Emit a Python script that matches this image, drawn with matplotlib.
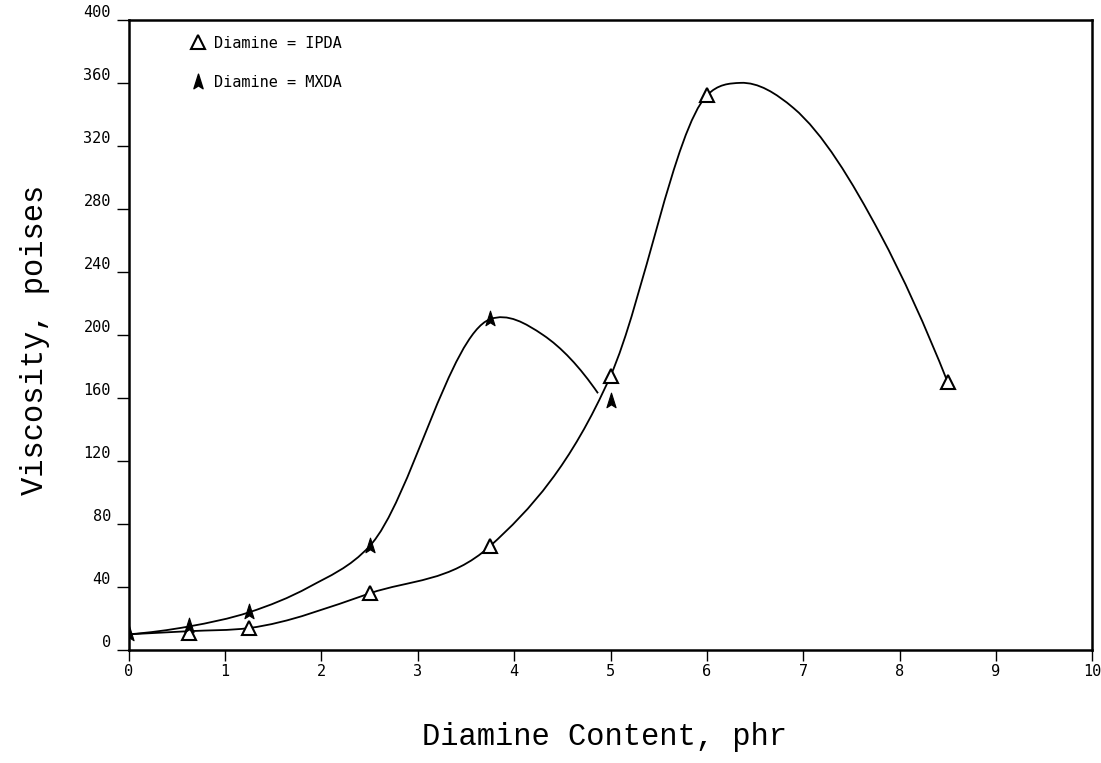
import numpy as np
import matplotlib
matplotlib.use("Agg")
import matplotlib.pyplot as plt
from matplotlib.path import Path
from matplotlib.patches import PathPatch
from matplotlib.lines import Line2D

# ---- data ----
# measured points (markers)
ipda_x = [0.625, 1.25, 2.5, 3.75, 5.0, 6.0, 8.5]
ipda_y = [11, 14, 36, 66, 174, 352, 170]
mxda_x = [0.0, 0.625, 1.25, 2.5, 3.75, 5.0]
mxda_y = [10, 15, 24, 66, 210, 158]

# hand-drawn curves, points
ipda_curve_x = [0.0, 0.625, 1.25, 2.5, 3.75, 5.0, 6.0, 6.35, 6.9, 7.8, 8.5]
ipda_curve_y = [10, 12, 14, 36, 66, 174, 352, 360, 344, 264, 170]
mxda_curve_x = [0.0, 0.625, 1.25, 1.87, 2.5, 3.75, 4.3, 4.87]
mxda_curve_y = [10, 15, 24, 40, 66, 210, 200, 163]

xticks = [0, 1, 2, 3, 4, 5, 6, 7, 8, 9, 10]
yticks = [0, 40, 80, 120, 160, 200, 240, 280, 320, 360, 400]

label_ipda = "Diamine = IPDA"
label_mxda = "Diamine = MXDA"
xlabel = "Diamine Content, phr"
ylabel = "Viscosity, poises"


def smooth_path(xs, ys):
    """Cubic Bezier path through the given points (Bessel / parabolic tangents)."""
    xs = np.asarray(xs, float)
    ys = np.asarray(ys, float)
    n = len(xs)
    h = np.diff(xs)
    d = np.diff(ys) / h
    m = np.zeros(n)
    for i in range(1, n - 1):
        m[i] = (h[i] * d[i - 1] + h[i - 1] * d[i]) / (h[i - 1] + h[i])
    m[0] = d[0] + (d[0] - d[1]) * h[0] / (h[0] + h[1])
    m[-1] = d[-1] + (d[-1] - d[-2]) * h[-1] / (h[-1] + h[-2])
    verts = [(xs[0], ys[0])]
    codes = [Path.MOVETO]
    for i in range(n - 1):
        verts += [(xs[i] + h[i] / 3, ys[i] + m[i] * h[i] / 3),
                  (xs[i + 1] - h[i] / 3, ys[i + 1] - m[i + 1] * h[i] / 3),
                  (xs[i + 1], ys[i + 1])]
        codes += [Path.CURVE4] * 3
    return Path(verts, codes)


# filled "arrowhead" marker
arrow_marker = Path([(0, 1.0), (0.55, -0.75), (0, -0.4), (-0.55, -0.75), (0, 1.0)],
                    [Path.MOVETO, Path.LINETO, Path.LINETO, Path.LINETO, Path.CLOSEPOLY])

fig = plt.figure(figsize=(11.01, 7.63), dpi=100)
ax = fig.add_axes([0.117, 0.148, 0.875, 0.826])

ax.add_patch(PathPatch(smooth_path(ipda_curve_x, ipda_curve_y), fill=False, lw=1.3, ec="black"))
ax.add_patch(PathPatch(smooth_path(mxda_curve_x, mxda_curve_y), fill=False, lw=1.3, ec="black"))

ax.plot(ipda_x, ipda_y, linestyle="none", marker="^", ms=9.5,
        mfc="white", mec="black", mew=1.5, zorder=3)
ax.plot(mxda_x, mxda_y, linestyle="none", marker=arrow_marker, ms=12,
        mfc="black", mec="black", mew=0.8, zorder=4)

ax.set_xlim(0, 10)
ax.set_ylim(0, 400)
ax.set_xticks(xticks)
ax.set_yticks(yticks)
ax.set_xticklabels([str(t) for t in xticks], fontfamily="DejaVu Sans Mono", fontsize=11)
ax.set_yticklabels([str(t) for t in yticks], fontfamily="DejaVu Sans Mono", fontsize=11)
for lab in ax.get_yticklabels():
    lab.set_verticalalignment("bottom")
ax.tick_params(axis="x", direction="out", length=8, width=1, pad=2)
ax.tick_params(axis="y", direction="out", length=9, width=1, pad=4)
for s in ax.spines.values():
    s.set_linewidth(1.8)

handles = [
    Line2D([], [], linestyle="none", marker="^", ms=9.5, mfc="white", mec="black", mew=1.5),
    Line2D([], [], linestyle="none", marker=arrow_marker, ms=12, mfc="black", mec="black"),
]
ax.legend(handles, [label_ipda, label_mxda], loc="upper left",
          bbox_to_anchor=(0.0635, 0.975), frameon=False, handlelength=1.0,
          handletextpad=0.55, labelspacing=1.63, borderpad=0, borderaxespad=0,
          prop={"family": "DejaVu Sans Mono", "size": 11})

fig.text(605 / 1101, 1 - 737 / 763, xlabel, ha="center", va="center",
         fontfamily="Liberation Mono", fontsize=22)
fig.text(35 / 1101, 1 - 340 / 763, ylabel, ha="center", va="center", rotation=90,
         fontfamily="Liberation Mono", fontsize=22)

fig.savefig("out.png", dpi=100)
